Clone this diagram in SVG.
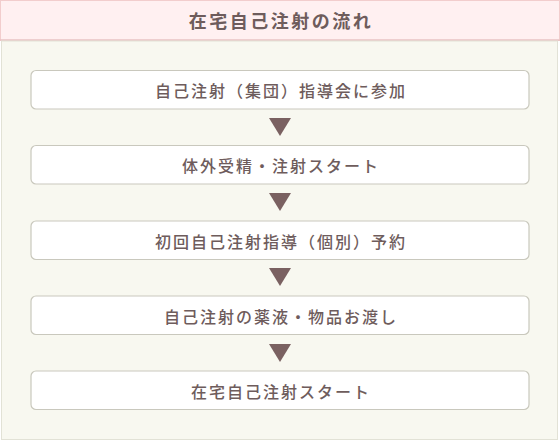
<svg xmlns="http://www.w3.org/2000/svg" width="560" height="441" viewBox="0 0 560 441">
<style>
.box{fill:#ffffff;stroke:#c9c8bd;stroke-width:1.2}
.t{font-family:"Noto Sans CJK JP","Noto Sans",sans-serif;font-size:16px;font-weight:500;letter-spacing:2px;fill:#6e5c5c;text-anchor:middle;dominant-baseline:central}
.tri{fill:#7a6161}
</style>
<rect x="0" y="0" width="560" height="441" fill="#ffffff"/>
<g id="header">
<rect x="0.5" y="0.5" width="559" height="40" fill="#fff0f1" stroke="#f2cdcd"/>
<line x1="0" y1="40" x2="560" y2="40" stroke="#e9c3c3" stroke-width="1.5"/>
<text x="281" y="20" class="t" style="font-size:18px;font-weight:bold;letter-spacing:2.5px">在宅自己注射の流れ</text>
</g>
<g id="panel">
<rect x="1.5" y="41" width="556" height="398.5" fill="#f8f8f0" stroke="#e2e2d6"/>
</g>
<g id="connectors">
<polygon class="tri" points="269,118 291,118 280,136"/>
<polygon class="tri" points="269,193 291,193 280,211"/>
<polygon class="tri" points="269,268 291,268 280,286"/>
<polygon class="tri" points="269,344 291,344 280,362"/>
</g>
<g id="n1"><rect class="box" x="31" y="70.5" width="498" height="38.5" rx="5"/><text class="t" x="281" y="90">自己注射（集団）指導会に参加</text></g>
<g id="n2"><rect class="box" x="31" y="145.5" width="498" height="38.5" rx="5"/><text class="t" x="281" y="165">体外受精・注射スタート</text></g>
<g id="n3"><rect class="box" x="31" y="221" width="498" height="38.5" rx="5"/><text class="t" x="281" y="240.5">初回自己注射指導（個別）予約</text></g>
<g id="n4"><rect class="box" x="31" y="296" width="498" height="38.5" rx="5"/><text class="t" x="281" y="315.5">自己注射の薬液・物品お渡し</text></g>
<g id="n5"><rect class="box" x="31" y="371" width="498" height="38.5" rx="5"/><text class="t" x="281" y="390.5">在宅自己注射スタート</text></g>
</svg>
